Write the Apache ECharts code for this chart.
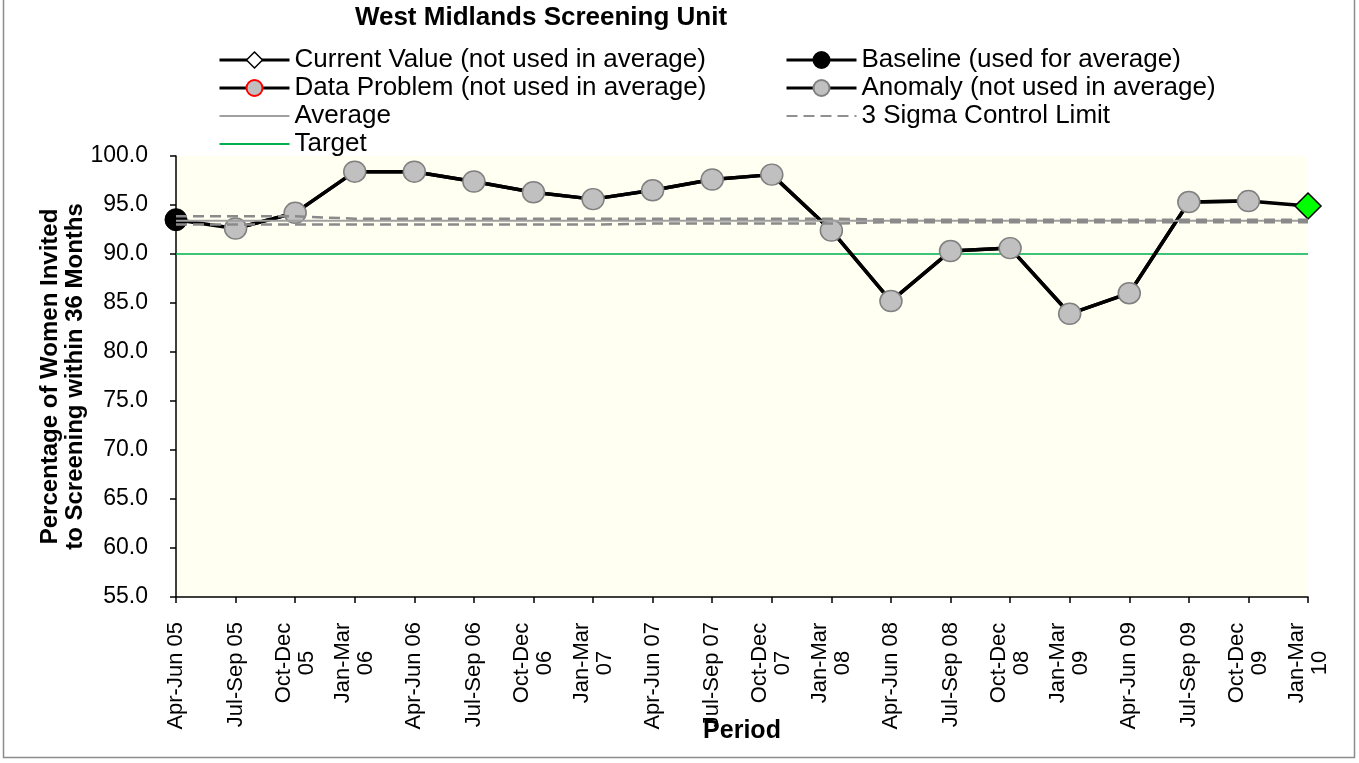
<!DOCTYPE html>
<html><head><meta charset="utf-8">
<script src="https://cdn.jsdelivr.net/npm/echarts@6/dist/echarts.min.js"></script>
<style>html,body{margin:0;padding:0;background:#fff}#c{width:1359px;height:763px}</style>
</head><body><div id="c"></div>
<script>
const categories = ['Apr-Jun 05','Jul-Sep 05','Oct-Dec\n05','Jan-Mar\n06','Apr-Jun 06','Jul-Sep 06','Oct-Dec\n06','Jan-Mar\n07','Apr-Jun 07','Jul-Sep 07','Oct-Dec\n07','Jan-Mar\n08','Apr-Jun 08','Jul-Sep 08','Oct-Dec\n08','Jan-Mar\n09','Apr-Jun 09','Jul-Sep 09','Oct-Dec\n09','Jan-Mar\n10'];
const values = [93.5, 92.6, 94.2, 98.4, 98.4, 97.4, 96.3, 95.6, 96.5, 97.6, 98.1, 92.4, 85.2, 90.3, 90.6, 83.9, 86.0, 95.3, 95.4, 94.9];
const pointType = ['baseline','anomaly','anomaly','anomaly','anomaly','anomaly','anomaly','anomaly','anomaly','anomaly','anomaly','anomaly','anomaly','anomaly','anomaly','anomaly','anomaly','anomaly','anomaly','current'];
const average = [93.4, 93.4, 93.4, 93.4, 93.4, 93.4, 93.4, 93.4, 93.4, 93.4, 93.4, 93.4, 93.4, 93.4, 93.4, 93.4, 93.4, 93.4, 93.4, 93.4];
const upperLimit = [93.85, 93.85, 93.85, 93.6, 93.6, 93.6, 93.6, 93.6, 93.6, 93.6, 93.6, 93.6, 93.5, 93.5, 93.5, 93.5, 93.5, 93.5, 93.5, 93.5];
const lowerLimit = [93.0, 93.0, 93.0, 93.0, 93.0, 93.0, 93.0, 93.0, 93.1, 93.1, 93.1, 93.1, 93.25, 93.25, 93.25, 93.25, 93.25, 93.25, 93.25, 93.25];
const target = [90, 90, 90, 90, 90, 90, 90, 90, 90, 90, 90, 90, 90, 90, 90, 90, 90, 90, 90, 90];
const yMin = 55, yMax = 100, yInterval = 5;

const NAMES = {
  current: 'Current Value (not used in average)',
  baseline: 'Baseline (used for average)',
  problem: 'Data Problem (not used in average)',
  anomaly: 'Anomaly (not used in average)',
  average: 'Average',
  sigma: '3 Sigma Control Limit',
  target: 'Target'
};
const FONT = 'Liberation Sans, Arial, sans-serif';
function pick(t){ return values.map((v,i)=> pointType[i]===t ? v : null); }

const chart = echarts.init(document.getElementById('c'), null, {renderer:'canvas'});
const lineBlack = {color:'#000', width:3};
const hideSym = {opacity:0};
const legendBase = {orient:'vertical', itemWidth:70, itemHeight:20, itemGap:2, padding:0, selectedMode:false,
  textStyle:{fontFamily:FONT, fontSize:26, color:'#000'}};
chart.setOption({
  animation:false,
  backgroundColor:'#fff',
  title:{text:'West Midlands Screening Unit', left:541, top:5, padding:0, textAlign:'center',
    textStyle:{fontFamily:FONT, fontSize:26, fontWeight:'bold', color:'#000'}},
  legend:[
    Object.assign({left:218, top:47, data:[
      {name:NAMES.current, itemStyle:{color:'#fff', borderColor:'#000', borderWidth:1.5}, lineStyle:{width:3, color:'#000'}},
      {name:NAMES.problem, lineStyle:{width:3, color:'#000'}},
      {name:NAMES.average, itemStyle:hideSym, lineStyle:{width:2, color:'#A0A0A0'}},
      {name:NAMES.target, itemStyle:hideSym, lineStyle:{width:2, color:'#00B050'}}]}, legendBase),
    Object.assign({left:785, top:47, data:[
      {name:NAMES.baseline, lineStyle:{width:3, color:'#000'}},
      {name:NAMES.anomaly, lineStyle:{width:3, color:'#000'}},
      {name:NAMES.sigma, itemStyle:hideSym, lineStyle:{width:2, color:'#909090'}}]}, legendBase)
  ],
  grid:{left:176, right:51, top:156, bottom:166, show:true, backgroundColor:'#FFFFF2', borderWidth:0},
  xAxis:{type:'category', data:categories, boundaryGap:false,
    name:'Period', nameLocation:'middle', nameGap:122, nameMoveOverlap:false,
    nameTextStyle:{fontFamily:FONT, fontSize:25, fontWeight:'bold', color:'#000'},
    axisLine:{lineStyle:{color:'#000', width:1.5}},
    axisTick:{show:true, length:6, alignWithLabel:true, lineStyle:{color:'#000', width:1.5}},
    axisLabel:{interval:0, rotate:90, margin:25, fontFamily:FONT, fontSize:22, color:'#000',
      formatter:function(v){ if(v.indexOf('\n')<0) return v; const p=v.split('\n'); return '{w|'+p[0]+'}\n{w|'+p[1]+'}'; },
      rich:{w:{width:82, align:'center', fontFamily:FONT, fontSize:22, color:'#000', lineHeight:23}}},
    splitLine:{show:false}},
  yAxis:{type:'value', min:yMin, max:yMax, interval:yInterval,
    name:'Percentage of Women Invited\nto Screening within 36 Months', nameLocation:'middle', nameGap:88, nameRotate:90, nameMoveOverlap:false,
    nameTextStyle:{fontFamily:FONT, fontSize:24, fontWeight:'bold', color:'#000', lineHeight:25, align:'center'},
    axisLine:{show:true, lineStyle:{color:'#000', width:1.5}},
    axisTick:{show:true, length:6, lineStyle:{color:'#000', width:1.5}},
    axisLabel:{margin:28, fontFamily:FONT, fontSize:23, color:'#000', formatter:v=>v.toFixed(1)},
    splitLine:{show:false}},
  series:[
    {name:NAMES.target, type:'line', data:target, symbol:'none', lineStyle:{color:'#00B050', width:1.5}, itemStyle:{color:'#00B050'}, z:1},
    {name:'trace', type:'line', data:values, symbol:'none', lineStyle:{color:'#000', width:3.5}, itemStyle:{color:'#000'}, z:2},
    {name:NAMES.baseline, type:'line', data:pick('baseline'), symbol:'circle', symbolSize:22, lineStyle:lineBlack,
     itemStyle:{color:'#000', borderColor:'#000', borderWidth:1}, z:3},
    {name:NAMES.anomaly, type:'line', data:pick('anomaly'), symbol:'circle', symbolSize:[22,21], lineStyle:{color:'#000', width:3.5},
     itemStyle:{color:'#C0C0C0', borderColor:'#808080', borderWidth:1.5}, z:3},
    {name:NAMES.problem, type:'line', data:pick('problem'), symbol:'circle', symbolSize:22, lineStyle:lineBlack,
     itemStyle:{color:'#C0C0C0', borderColor:'#FF0000', borderWidth:1.5}, z:3},
    {name:NAMES.current, type:'line', data:pick('current'), symbol:'diamond', symbolSize:26, lineStyle:lineBlack,
     itemStyle:{color:'#00FF00', borderColor:'#000', borderWidth:1.5}, z:3},
    {name:NAMES.average, type:'line', data:average, symbol:'none', lineStyle:{color:'#A0A0A0', width:2}, itemStyle:{color:'#A0A0A0'}, z:4},
    {name:NAMES.sigma, type:'line', data:upperLimit, symbol:'none', lineStyle:{color:'#8A8A8A', width:2.5, type:[11,6]}, itemStyle:{color:'#8A8A8A'}, z:4},
    {name:NAMES.sigma, type:'line', data:lowerLimit, symbol:'none', lineStyle:{color:'#8A8A8A', width:2.5, type:[11,6]}, itemStyle:{color:'#8A8A8A'}, z:4}
  ],
  graphic:[{type:'rect', shape:{x:3.5, y:-2, width:1351, height:759.5}, style:{fill:null, stroke:'#8c8c8c', lineWidth:1.5}, silent:true, z:100}]
});
</script></body></html>
